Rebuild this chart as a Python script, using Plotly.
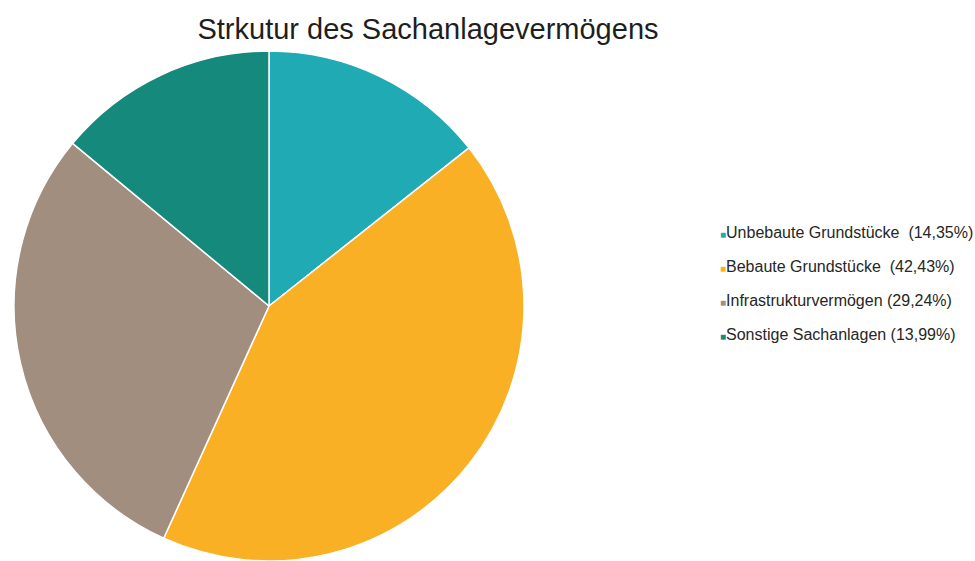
import plotly.graph_objects as go

# Anteile des Sachanlagevermögens (in %)
labels = ["Unbebaute Grundstücke", "Bebaute Grundstücke", "Infrastrukturvermögen", "Sonstige Sachanlagen"]
shares = [14.35, 42.43, 29.24, 13.99]
colors = ["#20aab4", "#fab024", "#a18e7f", "#15897b"]
label_gaps = ["&nbsp;&nbsp;", "&nbsp;&nbsp;", " ", " "]

W, H = 975, 561
FONT = "Liberation Sans, Arial, sans-serif"

fig = go.Figure(
    go.Pie(
        labels=labels,
        values=shares,
        sort=False,
        direction="clockwise",
        rotation=0,
        marker=dict(colors=colors, line=dict(color="white", width=1.5)),
        textinfo="none",
        hoverinfo="label+percent",
        showlegend=False,
        domain=dict(x=[13 / W, 525 / W], y=[0, 510 / H]),
    )
)

# Legende als Textzeilen mit farbigen Quadraten
row_y = [232, 266, 300, 334]
for lab, val, col, gap, yy in zip(labels, shares, colors, label_gaps, row_y):
    pct = f"{val:.2f}".replace(".", ",")
    fig.add_annotation(
        x=718 / W, y=1 - yy / H, xref="paper", yref="paper",
        xanchor="left", yanchor="middle", showarrow=False,
        text=f"<span style='color:{col};font-size:10px'>■</span>{lab}{gap}({pct}%)",
        font=dict(family=FONT, size=16, color="#262626"),
    )

fig.update_layout(
    width=W, height=H,
    margin=dict(l=0, r=0, t=0, b=0),
    paper_bgcolor="white",
    plot_bgcolor="white",
    title=dict(
        text="Strkutur des Sachanlagevermögens",
        x=428 / W, y=1 - 29 / H, xanchor="center", yanchor="middle",
        xref="paper", yref="paper",
        font=dict(family=FONT, size=29, color="#1e1e1e"),
    ),
)

fig.write_html("out.html")
